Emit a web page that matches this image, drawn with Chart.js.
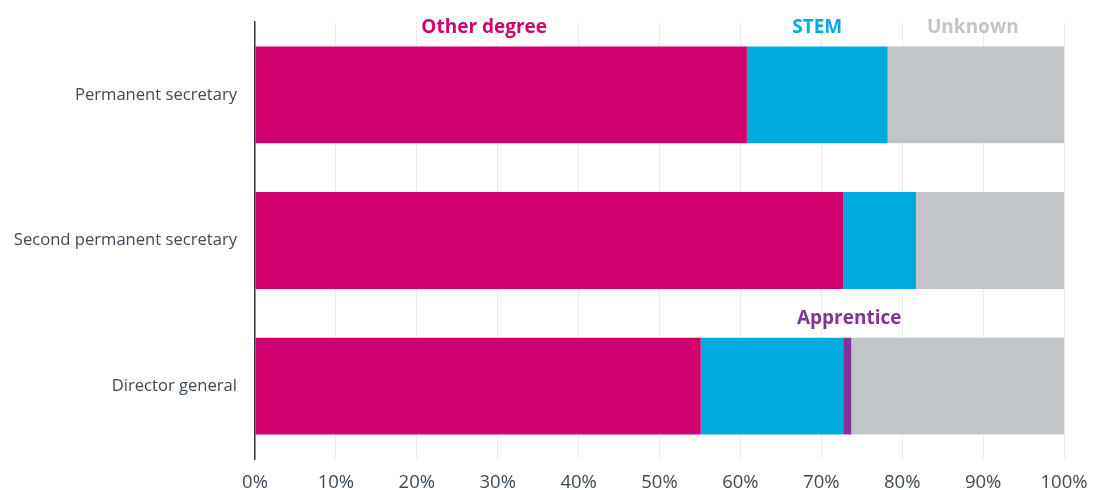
<!DOCTYPE html>
<html>
<head>
<meta charset="utf-8">
<script src="https://cdn.jsdelivr.net/npm/chart.js@4"></script>
<style>
  html, body { margin: 0; padding: 0; background: #fff; }
  #wrap { width: 1094px; height: 490px; }
</style>
</head>
<body>
<div id="wrap"><canvas id="barChart"></canvas></div>
<script>
// data (percent of each role)
const categories = ["Permanent secretary", "Second permanent secretary", "Director general"];
const otherDegree = [60.8, 72.7, 55.1];
const stem = [17.4, 9.0, 17.6];
const apprentice = [0, 0, 1.0];
const unknown = [21.8, 18.3, 26.3];
const xTicks = [0, 10, 20, 30, 40, 50, 60, 70, 80, 90, 100];

const FONT = "'Open Sans', sans-serif";

// Series names drawn above the bars, in the series colour
const seriesLabels = {
  id: "seriesLabels",
  afterDatasetsDraw(chart) {
    const ctx = chart.ctx;
    const items = [
      { ds: 0, row: 0, text: "Other degree", dx: -17 },
      { ds: 1, row: 0, text: "STEM", dx: 0 },
      { ds: 2, row: 2, text: "Apprentice", dx: 2 },
      { ds: 3, row: 0, text: "Unknown", dx: -3 },
    ];
    ctx.save();
    ctx.font = "bold 19px " + FONT;
    ctx.textAlign = "center";
    ctx.textBaseline = "middle";
    items.forEach((it) => {
      const el = chart.getDatasetMeta(it.ds).data[it.row];
      const cx = (el.x + el.base) / 2 + it.dx;
      const top = el.y - el.height / 2;
      ctx.fillStyle = chart.data.datasets[it.ds].backgroundColor;
      ctx.fillText(it.text, cx, top - 19);
    });
    ctx.restore();
  },
};

const ctx = document.getElementById("barChart").getContext("2d");
new Chart(ctx, {
  type: "bar",
  data: {
    labels: categories,
    datasets: [
      { label: "Other degree", data: otherDegree, backgroundColor: "#d0006f" },
      { label: "STEM", data: stem, backgroundColor: "#00a9e0" },
      { label: "Apprentice", data: apprentice, backgroundColor: "#84329b" },
      { label: "Unknown", data: unknown, backgroundColor: "#c1c5c8" },
    ],
  },
  options: {
    indexAxis: "y",
    responsive: true,
    maintainAspectRatio: false,
    animation: false,
    datasets: { bar: { categoryPercentage: 1, barPercentage: 0.665, borderWidth: 0 } },
    layout: { padding: { top: 22, right: 30, left: 0, bottom: 0 } },
    plugins: { legend: { display: false }, tooltip: { enabled: false } },
    scales: {
      x: {
        stacked: true,
        min: 0,
        max: 100,
        afterBuildTicks: (scale) => {
          scale.ticks = xTicks.map((v) => ({ value: v }));
        },
        afterFit: (scale) => {
          scale.height = 31;
          scale.paddingLeft = 0;
          scale.paddingRight = 0;
        },
        grid: { color: "#ececec", lineWidth: 1, drawTicks: false },
        border: { display: false },
        ticks: {
          padding: 13,
          color: "#3d4a57",
          font: { family: FONT, size: 18.5 },
          callback: (v) => v + "%",
        },
      },
      y: {
        stacked: true,
        afterFit: (scale) => {
          scale.width = 255;
          scale.paddingTop = 0;
          scale.paddingBottom = 0;
        },
        grid: { display: false, drawTicks: false },
        border: { display: true, color: "#2b3a4a", width: 1.5 },
        ticks: {
          padding: 18,
          color: "#3d4a57",
          font: { family: FONT, size: 16.6 },
        },
      },
    },
  },
  plugins: [seriesLabels],
});
</script>
</body>
</html>
